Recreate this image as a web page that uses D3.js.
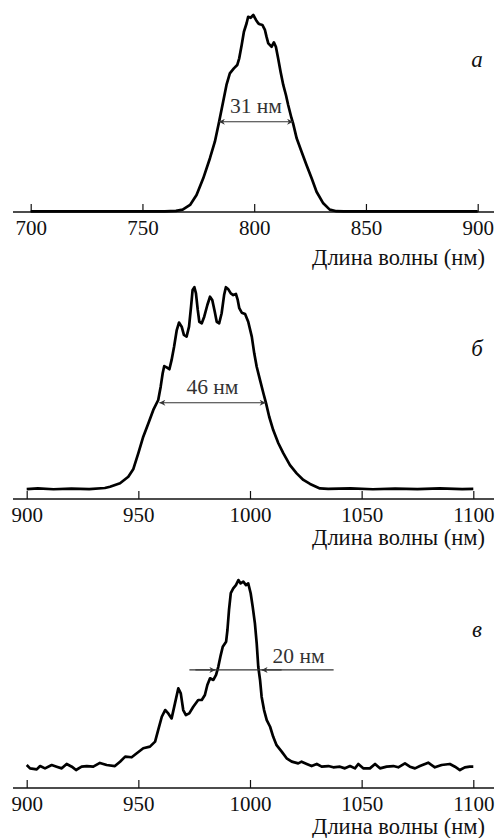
<!DOCTYPE html>
<html>
<head>
<meta charset="utf-8">
<script src="https://cdn.jsdelivr.net/npm/d3@7"></script>
<style>
    body { margin: 0; background: #fff; }
</style>
</head>
<body>
<div id="chart"></div>
<script>
// spectrum a (700-900 nm), intensity relative to peak
const waveA = [700, 730, 760, 765, 768, 771.3, 774.2, 777.2, 780.2, 782.4, 784.3, 786.1, 787.6, 789.1, 790.9, 792.4,
    793.3, 794.4, 795.4, 796.6, 797.3, 798.4, 799.6, 800.8, 801.8, 802.5, 803.7, 804.8, 805.5, 806.3, 807.8, 808.8,
    809.7, 810.7, 811.8, 813, 814.2, 815.2, 816.7, 817.4, 819, 821.2, 823.4, 825.7, 827.9, 830.9, 833.8, 836.8, 840, 870, 900];
const valA = [0.003, 0.003, 0.003, 0.006, 0.012, 0.036, 0.086, 0.171, 0.273, 0.357, 0.458, 0.56, 0.645, 0.704, 0.729, 0.746,
    0.78, 0.848, 0.915, 0.958, 0.991, 0.986, 1.0, 0.975, 0.958, 0.953, 0.949, 0.924, 0.89, 0.856, 0.839, 0.861,
    0.839, 0.78, 0.712, 0.645, 0.594, 0.543, 0.476, 0.45, 0.374, 0.306, 0.239, 0.171, 0.103, 0.044, 0.012, 0.004, 0.003, 0.003, 0.003];

// spectrum b (900-1100 nm)
const waveB = [900, 905, 912, 920, 928, 935, 937.3, 941.8, 945.5, 947.7, 950, 952.2, 954.5, 956.7, 958.9, 960, 960.9,
    961.6, 962.7, 963.9, 964.9, 966, 967.2, 968.2, 969.4, 970.4, 971.6, 972.7, 973.6, 974.3, 975.1, 975.8, 976.6,
    977.3, 978.4, 979.5, 980.9, 982.1, 983.1, 984.2, 985.1, 986.2, 987.3, 988.4, 989.2, 990.3, 991.4, 992.5, 993.7,
    994.5, 995.2, 996.3, 997.8, 999.2, 1000.8, 1001.9, 1003, 1004.5, 1006, 1007.2, 1008.6, 1010.4, 1012.7, 1014.9,
    1017.9, 1020.9, 1023.9, 1026.9, 1031.3, 1035, 1045, 1055, 1065, 1075, 1085, 1095, 1100];
const valB = [0.047, 0.05, 0.046, 0.049, 0.047, 0.052, 0.058, 0.074, 0.105, 0.14, 0.216, 0.294, 0.357, 0.42, 0.467, 0.53, 0.593,
    0.627, 0.621, 0.612, 0.656, 0.718, 0.797, 0.832, 0.813, 0.774, 0.766, 0.813, 0.907, 0.986, 0.999, 0.97, 0.892,
    0.836, 0.829, 0.86, 0.915, 0.954, 0.939, 0.884, 0.836, 0.829, 0.876, 0.962, 0.999, 0.989, 0.97, 0.962, 0.967,
    0.939, 0.9, 0.879, 0.873, 0.836, 0.766, 0.687, 0.624, 0.561, 0.499, 0.451, 0.388, 0.325, 0.263, 0.216,
    0.16, 0.121, 0.09, 0.071, 0.05, 0.048, 0.05, 0.046, 0.049, 0.047, 0.05, 0.047, 0.048];

// spectrum c (900-1100 nm), noisy baseline
const waveC = [900, 901.5, 904.5, 906, 908.2, 911.2, 913.4, 915.7, 917.9, 920.2, 922.1, 924.6, 926.9, 929.8, 932.8, 935.8,
    939.5, 941.8, 944.1, 947, 949.3, 952.2, 955.2, 957.5, 958.9, 960.5, 962, 963.4, 964.9, 966.4, 967.9, 969, 970.1,
    971.3, 972.8, 974.6, 976.8, 978.4, 979.8, 980.9, 982.1, 983.6, 984.8, 985.8, 986.9, 987.8, 989.3, 989.9, 990.6,
    991.4, 992.5, 993.7, 994.8, 995.8, 997, 998.2, 999.2, 1000.3, 1001.2, 1002.2, 1003, 1003.7, 1004.5, 1005.2,
    1006.3, 1007.5, 1009, 1010.4, 1011.9, 1014.2, 1016.4, 1018.7, 1021.6, 1023.1, 1025.4, 1027.6, 1029.9, 1032.1,
    1035.1, 1037.3, 1040.3, 1042.5, 1044.8, 1047, 1048.5, 1050.7, 1053.7, 1056, 1058.2, 1061.2, 1064.2, 1066.4,
    1069.4, 1071.6, 1073.9, 1076.1, 1079.8, 1082.8, 1085.8, 1089.5, 1091.8, 1094, 1096.2, 1098.4, 1100];
const valC = [0.11, 0.094, 0.089, 0.105, 0.094, 0.11, 0.102, 0.094, 0.115, 0.102, 0.086, 0.102, 0.105, 0.102, 0.12, 0.11,
    0.105, 0.126, 0.15, 0.147, 0.166, 0.19, 0.198, 0.222, 0.278, 0.341, 0.373, 0.357, 0.333, 0.405, 0.477, 0.453, 0.373,
    0.349, 0.357, 0.389, 0.421, 0.421, 0.445, 0.493, 0.525, 0.517, 0.541, 0.58, 0.636, 0.676, 0.7, 0.756, 0.852,
    0.932, 0.955, 0.971, 0.995, 0.979, 0.987, 0.971, 0.979, 0.932, 0.868, 0.788, 0.692, 0.58, 0.517, 0.437,
    0.373, 0.325, 0.293, 0.245, 0.205, 0.174, 0.142, 0.126, 0.118, 0.126, 0.115, 0.105, 0.115, 0.102,
    0.105, 0.099, 0.102, 0.094, 0.105, 0.094, 0.115, 0.094, 0.094, 0.115, 0.094, 0.102, 0.105, 0.099,
    0.118, 0.102, 0.094, 0.105, 0.121, 0.099, 0.11, 0.115, 0.102, 0.086, 0.099, 0.102, 0.102];

const ticksA = [700, 750, 800, 850, 900];
const ticksBC = [900, 950, 1000, 1050, 1100];
const panelLabels = ["а", "б", "в"];
const widthLabels = ["31 нм", "46 нм", "20 нм"];
// FWHM markers: [left nm, right nm, level]
const fwhmA = [784.2, 817.4, 0.458];
const fwhmB = [959.4, 1007.0, 0.454];
const fwhmC = [984.5, 1005.2, 0.565];
const axisTitle = "Длина волны (нм)";

const serif = "Liberation Serif";
const W = 497, H = 838;
const svg = d3.select("#chart").append("svg")
    .attr("width", W)
    .attr("height", H);

const defs = svg.append("defs");
["head-end", "head-start"].forEach((id, i) => {
    defs.append("marker")
        .attr("id", id)
        .attr("viewBox", "0 0 10 10")
        .attr("refX", 10).attr("refY", 5)
        .attr("markerWidth", 9).attr("markerHeight", 6)
        .attr("markerUnits", "userSpaceOnUse")
        .attr("orient", i === 0 ? "auto" : "auto-start-reverse")
        .append("path")
        .attr("d", "M0,0 L10,5 L0,10 L3,5 Z")
        .attr("fill", "#333");
});

// panel layout
let panels = [
    {wave: waveA, val: valA, ticks: ticksA, dom: [700, 900], xr: [30.7, 477.7], axisY: 212, top: 15,
        labelY: 67, titleY: 265, fwhm: fwhmA},
    {wave: waveB, val: valB, ticks: ticksBC, dom: [900, 1100], xr: [26.7, 473.3], axisY: 499, top: 287,
        labelY: 356, titleY: 545, fwhm: fwhmB},
    {wave: waveC, val: valC, ticks: ticksBC, dom: [900, 1100], xr: [26.7, 473.3], axisY: 788, top: 579,
        labelY: 637, titleY: 834, fwhm: fwhmC}
];

panels.forEach((p, i) => {
    let x = d3.scaleLinear().domain(p.dom).range(p.xr);
    let y = d3.scaleLinear().domain([0, 1]).range([p.axisY, p.top]);
    let g = svg.append("g");

    // axis line
    g.append("line")
        .attr("x1", 13).attr("x2", 494)
        .attr("y1", p.axisY).attr("y2", p.axisY)
        .attr("stroke", "#111").attr("stroke-width", 1.4);

    let ax = g.append("g")
        .attr("transform", "translate(0," + p.axisY + ")")
        .call(d3.axisBottom(x).tickValues(p.ticks).tickSizeInner(-8).tickSizeOuter(0).tickPadding(8)
            .tickFormat(d3.format("d")));
    ax.attr("font-family", serif).attr("font-size", 21);
    ax.select(".domain").remove();
    ax.selectAll(".tick line").attr("stroke", "#111").attr("stroke-width", 1.2);
    ax.selectAll(".tick text")
        .attr("fill", "#111")
        .attr("font-family", serif)
        .attr("font-size", 21);

    // spectrum
    let pts = p.wave.map((w, k) => [w, p.val[k]]);
    g.append("path")
        .datum(pts)
        .attr("d", d3.line().x(d => x(d[0])).y(d => y(d[1])))
        .attr("fill", "none")
        .attr("stroke", "#000")
        .attr("stroke-width", 2.7)
        .attr("stroke-linejoin", "round");

    // axis title
    g.append("text")
        .attr("x", 485).attr("y", p.titleY)
        .attr("text-anchor", "end")
        .attr("font-family", serif)
        .attr("font-size", 22.5)
        .attr("fill", "#111")
        .text(axisTitle);

    // panel letter
    g.append("text")
        .attr("x", 477).attr("y", p.labelY)
        .attr("text-anchor", "middle")
        .attr("font-family", serif)
        .attr("font-size", 23)
        .attr("font-style", "italic")
        .attr("fill", "#111")
        .text(panelLabels[i]);

    // width marker
    let ly = y(p.fwhm[2]);
    if (i < 2) {
        g.append("line")
            .attr("x1", x(p.fwhm[0])).attr("x2", x(p.fwhm[1]))
            .attr("y1", ly).attr("y2", ly)
            .attr("stroke", "#333").attr("stroke-width", 1.1)
            .attr("marker-start", "url(#head-start)")
            .attr("marker-end", "url(#head-end)");
        g.append("text")
            .attr("x", (x(p.fwhm[0]) + x(p.fwhm[1])) / 2)
            .attr("y", ly - 8.5)
            .attr("text-anchor", "middle")
            .attr("font-family", serif)
            .attr("font-size", 21.5)
            .attr("fill", "#333")
            .text(widthLabels[i]);
    } else {
        let xl = x(p.fwhm[0]), xr = x(p.fwhm[1]);
        g.append("line")
            .attr("x1", xl - 26).attr("x2", xr + 72)
            .attr("y1", ly).attr("y2", ly)
            .attr("stroke", "#333").attr("stroke-width", 1.1);
        g.append("line")
            .attr("x1", xl - 20).attr("x2", xl)
            .attr("y1", ly).attr("y2", ly)
            .attr("stroke", "#333").attr("stroke-width", 1.1)
            .attr("marker-end", "url(#head-end)");
        g.append("line")
            .attr("x1", xr + 20).attr("x2", xr)
            .attr("y1", ly).attr("y2", ly)
            .attr("stroke", "#333").attr("stroke-width", 1.1)
            .attr("marker-end", "url(#head-end)");
        g.append("text")
            .attr("x", xr + 11)
            .attr("y", ly - 7)
            .attr("font-family", serif)
            .attr("font-size", 21.5)
            .attr("fill", "#333")
            .text(widthLabels[i]);
    }
});
</script>
</body>
</html>
